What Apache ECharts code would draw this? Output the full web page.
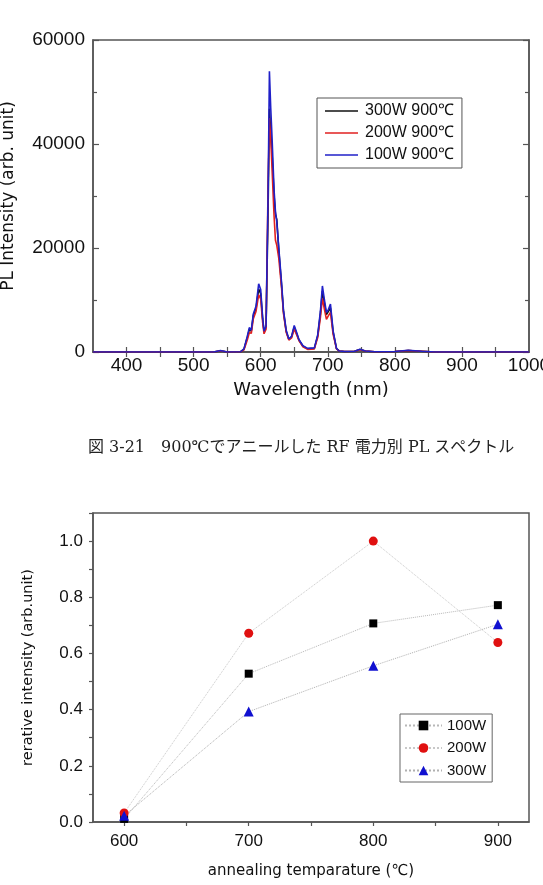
<!DOCTYPE html>
<html>
<head>
<meta charset="utf-8">
<script src="https://cdn.jsdelivr.net/npm/echarts@6.0.0/dist/echarts.min.js"></script>
<style>
  html, body { margin: 0; padding: 0; background: #fff; }
  #main { width: 543px; height: 885px; }
</style>
</head>
<body>
<div id="main"></div>
<script>
// PL スペクトル (900℃アニール)
const wavelength = [350, 530, 540, 550, 570, 575, 580, 583, 586, 589, 593, 597, 600, 603, 605, 608, 611, 613, 615, 617, 620, 622, 624, 627, 631, 634, 638, 642, 646, 650, 654, 657, 663, 670, 680, 685, 689, 692, 695, 698, 701, 704, 708, 713, 717, 725, 740, 748, 756, 770, 800, 820, 840, 860, 1000];
const pl300 = [0, 0, 250, 0, 50, 500, 2800, 4300, 4000, 7000, 8400, 12100, 11200, 6200, 3900, 4800, 27000, 46800, 42200, 38000, 30000, 26500, 25500, 19500, 13000, 7700, 4000, 2400, 2900, 4800, 3400, 2300, 1100, 600, 700, 3100, 7300, 11700, 9400, 7200, 7800, 8500, 3800, 650, 200, 100, 150, 500, 200, 50, 100, 300, 150, 0, 0];
const pl200 = [0, 0, 250, 0, 50, 400, 2300, 3700, 3600, 6400, 7800, 11000, 10200, 5600, 3500, 4400, 32000, 45000, 41000, 35000, 26000, 21500, 20500, 18000, 12500, 7400, 3800, 2300, 2700, 4400, 3200, 2200, 1000, 500, 600, 2800, 6600, 10300, 8200, 6300, 7000, 7600, 3400, 600, 200, 100, 150, 450, 200, 50, 100, 300, 150, 0, 0];
const pl100 = [0, 0, 300, 0, 50, 600, 3000, 4700, 4200, 7300, 8800, 13100, 12000, 6500, 4000, 5000, 30000, 54000, 46800, 41000, 31000, 27000, 25000, 20000, 13500, 8000, 4200, 2500, 3000, 5100, 3600, 2400, 1200, 700, 800, 3300, 7800, 12700, 10000, 7600, 8200, 9200, 4000, 700, 200, 100, 150, 550, 200, 50, 100, 350, 150, 0, 0];
const wlTicks = [400, 450, 500, 550, 600, 650, 700, 750, 800, 850, 900, 950];
const wlLabels = [400, 500, 600, 700, 800, 900, 1000];

// 相対強度 vs アニール温度
const temps = [600, 700, 800, 900];
const rel100 = [0.011, 0.528, 0.707, 0.772];
const rel200 = [0.032, 0.672, 1.0, 0.639];
const rel300 = [0.022, 0.393, 0.556, 0.704];
const tempTicks = [600, 650, 700, 750, 800, 850, 900];
const tempLabels = [600, 700, 800, 900];
const relTicks = [0, 0.1, 0.2, 0.3, 0.4, 0.5, 0.6, 0.7, 0.8, 0.9, 1.0, 1.1];
const relLabels = [0, 0.2, 0.4, 0.6, 0.8, 1.0];

const caption = '図 3-21　900℃でアニールした RF 電力別 PL スペクトル';

const numFont = "'Liberation Sans', Arial, sans-serif";
const nameFont = "'DejaVu Sans', sans-serif";
const axisColor = '#555';
// 凡例の線だけのアイコン
const lineIcon = 'path://M0,0H66V3H0Z';

const pair = (xs, ys) => xs.map((x, i) => [x, ys[i]]);

let myChart = echarts.init(document.getElementById('main'));

let option = {
  animation: false,
  backgroundColor: '#fff',
  graphic: [{
    type: 'text',
    left: 88,
    top: 440,
    style: {
      text: caption,
      fontSize: 16,
      fontFamily: "'DejaVu Serif', 'Noto Sans CJK JP', serif",
      fill: '#222'
    }
  }],
  grid: [
    { left: 93, top: 40, width: 436, height: 312, outerBoundsMode: 'none', show: true, borderColor: axisColor, borderWidth: 1.5 },
    { left: 93, top: 513, width: 436, height: 309, outerBoundsMode: 'none', show: true, borderColor: axisColor, borderWidth: 1.5 }
  ],
  legend: [
    {
      data: [
        { name: '300W 900℃', icon: lineIcon },
        { name: '200W 900℃', icon: lineIcon },
        { name: '100W 900℃', icon: lineIcon }
      ],
      orient: 'vertical',
      left: 317, top: 98,
      padding: [5, 8, 5, 8],
      itemWidth: 33, itemHeight: 14, itemGap: 6,
      borderColor: '#555', borderWidth: 1,
      textStyle: { fontSize: 16, fontFamily: numFont, color: '#111', padding: [0, 0, 0, 2] }
    },
    {
      data: ['100W', '200W', '300W'],
      orient: 'vertical',
      left: 400, top: 714,
      padding: [4, 6, 4, 4],
      itemWidth: 37, itemHeight: 12, itemGap: 7.5,
      borderColor: '#666', borderWidth: 1,
      textStyle: { fontSize: 15, fontFamily: numFont, color: '#111' }
    }
  ],
  xAxis: [
    {
      type: 'value', gridIndex: 0, min: 350, max: 1000,
      axisLine: { lineStyle: { color: axisColor, width: 1.5 } },
      axisTick: { inside: true, length: 5, customValues: wlTicks, lineStyle: { color: axisColor, width: 1.2 } },
      axisLabel: { customValues: wlLabels, formatter: v => String(v), fontSize: 19, fontFamily: numFont, color: '#111', margin: 4 },
      splitLine: { show: false },
      name: 'Wavelength (nm)', nameLocation: 'middle', nameGap: 29,
      nameTextStyle: { fontSize: 18, fontFamily: nameFont, color: '#111' }
    },
    {
      type: 'value', gridIndex: 0, min: 350, max: 1000, position: 'top',
      axisLine: { lineStyle: { color: axisColor, width: 1.5 } },
      axisTick: { inside: true, length: 5, customValues: wlTicks, lineStyle: { color: axisColor, width: 1.2 } },
      axisLabel: { show: false },
      splitLine: { show: false }
    },
    {
      type: 'value', gridIndex: 1, min: 575, max: 925,
      axisLine: { lineStyle: { color: axisColor, width: 1.5 } },
      axisTick: { length: 4, customValues: tempTicks, lineStyle: { color: axisColor, width: 1.2 } },
      axisLabel: { customValues: tempLabels, formatter: v => String(v), fontSize: 17, fontFamily: numFont, color: '#111', margin: 11 },
      splitLine: { show: false },
      name: 'annealing temparature (℃)', nameLocation: 'middle', nameGap: 42,
      nameTextStyle: { fontSize: 15, fontFamily: nameFont, color: '#111' }
    }
  ],
  yAxis: [
    {
      type: 'value', gridIndex: 0, min: 0, max: 60000, interval: 20000,
      axisLine: { show: true, lineStyle: { color: axisColor, width: 1.5 } },
      axisTick: { inside: true, length: 6, lineStyle: { color: axisColor, width: 1.2 } },
      minorTick: { show: true, splitNumber: 2, length: 4, lineStyle: { color: axisColor, width: 1.2 } },
      axisLabel: { formatter: v => String(v), fontSize: 19, fontFamily: numFont, color: '#111', margin: 8 },
      splitLine: { show: false },
      name: 'PL Intensity (arb. unit)', nameLocation: 'middle', nameGap: 76,
      nameTextStyle: { fontSize: 17, fontFamily: nameFont, color: '#111' }
    },
    {
      type: 'value', gridIndex: 0, min: 0, max: 60000, interval: 20000, position: 'right',
      axisLine: { show: true, lineStyle: { color: axisColor, width: 1.5 } },
      axisTick: { inside: true, length: 6, lineStyle: { color: axisColor, width: 1.2 } },
      minorTick: { show: true, splitNumber: 2, length: 4, lineStyle: { color: axisColor, width: 1.2 } },
      axisLabel: { show: false },
      splitLine: { show: false }
    },
    {
      type: 'value', gridIndex: 1, min: 0, max: 1.1,
      axisLine: { show: true, lineStyle: { color: axisColor, width: 1.5 } },
      axisTick: { length: 4, customValues: relTicks, lineStyle: { color: axisColor, width: 1.2 } },
      axisLabel: { customValues: relLabels, formatter: v => v.toFixed(1), fontSize: 17, fontFamily: numFont, color: '#111', margin: 10 },
      splitLine: { show: false },
      name: 'rerative intensity (arb.unit)', nameLocation: 'middle', nameGap: 57,
      nameTextStyle: { fontSize: 14.5, fontFamily: nameFont, color: '#111' }
    }
  ],
  series: [
    { name: '300W 900℃', type: 'line', xAxisIndex: 0, yAxisIndex: 0, symbol: 'none', data: pair(wavelength, pl300), lineStyle: { color: '#111', width: 1.6 }, itemStyle: { color: '#111' } },
    { name: '200W 900℃', type: 'line', xAxisIndex: 0, yAxisIndex: 0, symbol: 'none', data: pair(wavelength, pl200), lineStyle: { color: '#e02020', width: 1.6 }, itemStyle: { color: '#e02020' } },
    { name: '100W 900℃', type: 'line', xAxisIndex: 0, yAxisIndex: 0, symbol: 'none', data: pair(wavelength, pl100), lineStyle: { color: '#2020c8', width: 1.6 }, itemStyle: { color: '#2020c8' } },
    {
      name: '100W', type: 'line', xAxisIndex: 2, yAxisIndex: 2, data: pair(temps, rel100),
      symbol: 'rect', symbolSize: 8, itemStyle: { color: '#000' },
      lineStyle: { color: '#b8b8b8', width: 1, type: 'dotted' }
    },
    {
      name: '200W', type: 'line', xAxisIndex: 2, yAxisIndex: 2, data: pair(temps, rel200),
      symbol: 'circle', symbolSize: 9, itemStyle: { color: '#e01010' },
      lineStyle: { color: '#c8c8c8', width: 1, type: 'dotted' }
    },
    {
      name: '300W', type: 'line', xAxisIndex: 2, yAxisIndex: 2, data: pair(temps, rel300),
      symbol: 'triangle', symbolSize: 10, itemStyle: { color: '#1010d0' },
      lineStyle: { color: '#b0b0b0', width: 1, type: 'dotted' }
    }
  ]
};

myChart.setOption(option);
</script>
</body>
</html>
